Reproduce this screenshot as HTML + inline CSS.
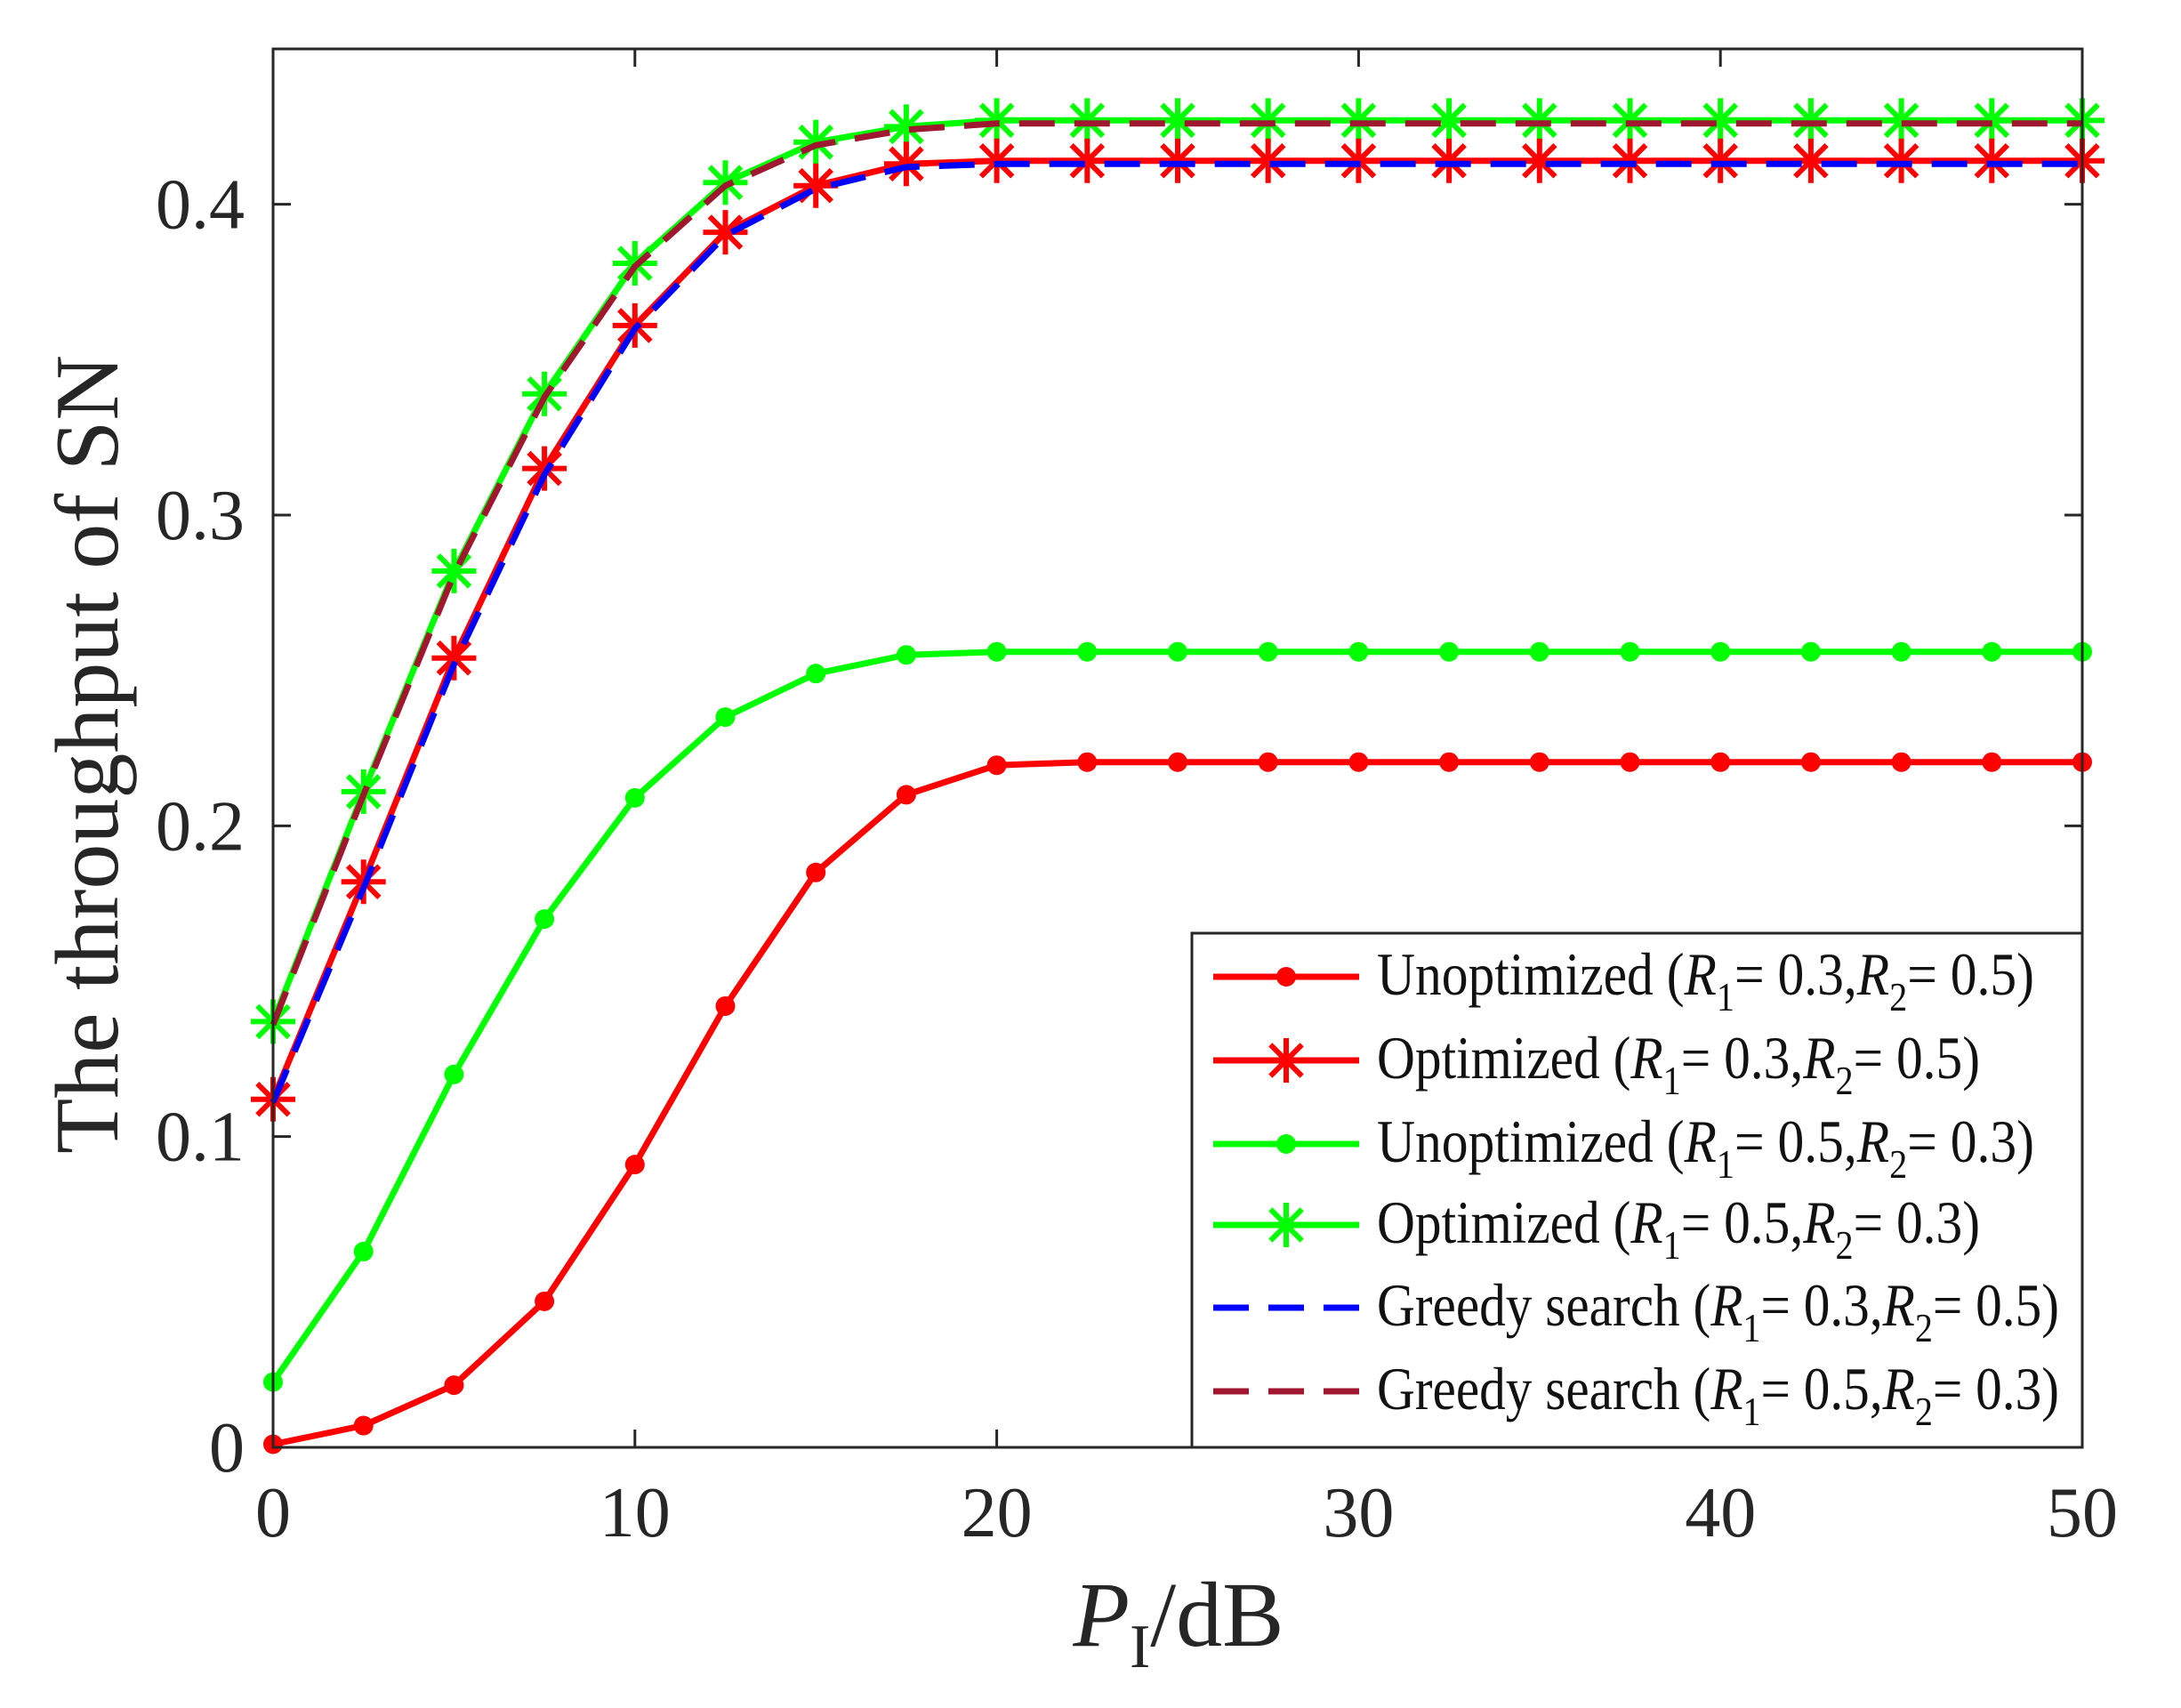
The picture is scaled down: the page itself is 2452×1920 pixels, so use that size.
<!DOCTYPE html>
<html><head><meta charset="utf-8"><style>
html,body{margin:0;padding:0;background:#fff;}
svg{display:block;font-family:"Liberation Serif",serif;}
</style></head><body>
<svg id="chart" width="2452" height="1920" viewBox="0 0 2452 1920" xmlns="http://www.w3.org/2000/svg">
<rect x="0" y="0" width="2452" height="1920" fill="#fff"/>
<g id="series"></g>
<g id="axes"></g>
<g id="legend"></g>
</svg>
<script>
const xValues=[0,2.5,5,7.5,10,12.5,15,17.5,20,22.5,25,27.5,30,32.5,35,37.5,40,42.5,45,47.5,50];
const unoptRed=[0.001,0.007,0.020,0.047,0.091,0.142,0.185,0.210,0.2195,0.2205,0.2205,0.2205,0.2205,0.2205,0.2205,0.2205,0.2205,0.2205,0.2205,0.2205,0.2205];
const unoptGreen=[0.021,0.063,0.120,0.170,0.209,0.235,0.249,0.255,0.256,0.256,0.256,0.256,0.256,0.256,0.256,0.256,0.256,0.256,0.256,0.256,0.256];
const optRed=[0.112,0.182,0.254,0.315,0.361,0.391,0.406,0.413,0.414,0.414,0.414,0.414,0.414,0.414,0.414,0.414,0.414,0.414,0.414,0.414,0.414];
const optGreen=[0.137,0.211,0.282,0.339,0.381,0.407,0.420,0.425,0.427,0.427,0.427,0.427,0.427,0.427,0.427,0.427,0.427,0.427,0.427,0.427,0.427];
const greedyBlue=[0.111,0.180,0.252,0.313,0.360,0.390,0.405,0.412,0.413,0.413,0.413,0.413,0.413,0.413,0.413,0.413,0.413,0.413,0.413,0.413,0.413];
const greedyMaroon=[0.136,0.210,0.281,0.338,0.380,0.406,0.419,0.424,0.426,0.426,0.426,0.426,0.426,0.426,0.426,0.426,0.426,0.426,0.426,0.426,0.426];
const xTicks=[0,10,20,30,40,50];
const yTicks=[0,0.1,0.2,0.3,0.4];
const yTickLabels=["0","0.1","0.2","0.3","0.4"];

const NS="http://www.w3.org/2000/svg";
const L=307,R=2341,T=55,B=1627,XMAX=50,YMAX=0.45;
function xs(v){return L+(R-L)*v/XMAX;}
function ys(v){return B-(B-T)*v/YMAX;}
function mk(tag,attrs,parent){const e=document.createElementNS(NS,tag);for(const k in attrs)e.setAttribute(k,attrs[k]);parent.appendChild(e);return e;}
const gS=document.getElementById('series'),gA=document.getElementById('axes'),gL=document.getElementById('legend');
const LW=7,DASH='40,22';

function asterisk(cx,cy,s,color,parent){
  const g=mk('g',{stroke:color,'stroke-width':6,fill:'none'},parent);
  mk('line',{x1:cx-s,y1:cy,x2:cx+s,y2:cy},g);
  mk('line',{x1:cx,y1:cy-s,x2:cx,y2:cy+s},g);
  const d=s*0.707;
  mk('line',{x1:cx-d,y1:cy-d,x2:cx+d,y2:cy+d},g);
  mk('line',{x1:cx-d,y1:cy+d,x2:cx+d,y2:cy-d},g);
  return g;
}
function series(vals,color,name,marker,dash){
  const g=mk('g',{},gS);
  
  
  const pts=vals.map((v,i)=>xs(xValues[i]).toFixed(1)+','+ys(v).toFixed(1)).join(' ');
  const pl=mk('polyline',{points:pts,fill:'none',stroke:color,'stroke-width':LW,'stroke-linejoin':'round'},g);
  if(dash)pl.setAttribute('stroke-dasharray',dash);
  
  
  vals.forEach((v,i)=>{
    let m;
    if(marker==='dot'){m=mk('circle',{cx:xs(xValues[i]),cy:ys(v),r:11,fill:color},g);}
    else if(marker==='star'){m=asterisk(xs(xValues[i]),ys(v),25,color,g);}
    if(m){
      
      
    }
  });
}
series(unoptRed,'#ff0000','unoptimized-r1-03','dot');
series(unoptGreen,'#00ff00','unoptimized-r1-05','dot');
series(optGreen,'#00ff00','optimized-r1-05','star');
series(greedyMaroon,'#a01830','greedy-r1-05',null,DASH);
series(optRed,'#ff0000','optimized-r1-03','star');
series(greedyBlue,'#0000ff','greedy-r1-03',null,DASH);

const box=mk('rect',{x:L,y:T,width:R-L,height:B-T,fill:'none',stroke:'#262626','stroke-width':3},gA);


xTicks.forEach(t=>{
  const x=xs(t);
  mk('line',{x1:x,y1:B,x2:x,y2:B-20,stroke:'#262626','stroke-width':3},gA);
  mk('line',{x1:x,y1:T,x2:x,y2:T+20,stroke:'#262626','stroke-width':3},gA);
  const tx=mk('text',{x:x,y:B+100,'text-anchor':'middle','font-size':80,fill:'#262626'},gA);
  tx.textContent=String(t);
  
  
});
yTicks.forEach((t,i)=>{
  const y=ys(t);
  mk('line',{x1:L,y1:y,x2:L+20,y2:y,stroke:'#262626','stroke-width':3},gA);
  mk('line',{x1:R,y1:y,x2:R-20,y2:y,stroke:'#262626','stroke-width':3},gA);
  const tx=mk('text',{x:L-32,y:y+27,'text-anchor':'end','font-size':80,fill:'#262626'},gA);
  tx.textContent=yTickLabels[i];
  
  
});
const yt=mk('text',{x:0,y:0,'text-anchor':'middle','font-size':102,fill:'#262626',transform:'translate(132,848) rotate(-90)'},gA);
yt.textContent='The throughput of SN';


const xt=mk('text',{x:1325,y:1850,'text-anchor':'middle','font-size':104,fill:'#262626'},gA);
xt.innerHTML='<tspan font-style="italic">P</tspan><tspan font-size="70" dy="24">I</tspan><tspan dy="-24">/dB</tspan>';



const legendLabels=[["Unoptimized","0.3","0.5"],["Optimized","0.3","0.5"],["Unoptimized","0.5","0.3"],["Optimized","0.5","0.3"],["Greedy search","0.3","0.5"],["Greedy search","0.5","0.3"]];
const legendColors=['#ff0000','#ff0000','#00ff00','#00ff00','#0000ff','#a01830'];
const legendMarkers=['dot','star','dot','star','dash','dash'];
const lb=mk('rect',{x:1340,y:1049,width:R-1340,height:B-1049,fill:'#fff',stroke:'#262626','stroke-width':3},gL);


const legendY=[1098,1192,1286,1377,1470,1564];
legendLabels.forEach((lab,i)=>{
  const y=legendY[i];
  const g=mk('g',{},gL);
  
  
  const ln=mk('line',{x1:1364,y1:y,x2:1528,y2:y,stroke:legendColors[i],'stroke-width':LW},g);
  if(legendMarkers[i]==='dash')ln.setAttribute('stroke-dasharray',DASH);
  if(legendMarkers[i]==='dot')mk('circle',{cx:1446,cy:y,r:11,fill:legendColors[i]},g);
  if(legendMarkers[i]==='star')asterisk(1446,y,25,legendColors[i],g);
  const w=lab[0]==='Greedy search'?767:(lab[0]==='Unoptimized'?739:678);
  const t=mk('text',{x:1548,y:y+20,'font-size':68,fill:'#111',textLength:w,lengthAdjust:'spacingAndGlyphs'},g);
  t.innerHTML=lab[0]+' (<tspan font-style="italic">R</tspan><tspan font-size="46" dy="18">1</tspan><tspan dy="-18">= '+lab[1]+',</tspan><tspan font-style="italic">R</tspan><tspan font-size="46" dy="18">2</tspan><tspan dy="-18">= '+lab[2]+')</tspan>';
});
</script>
</body></html>
